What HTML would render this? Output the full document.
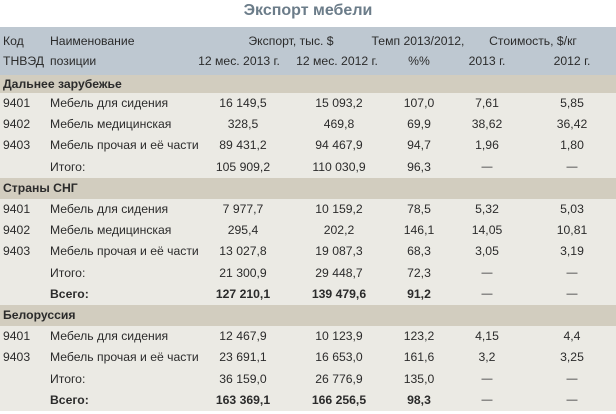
<!DOCTYPE html>
<html><head><meta charset="utf-8">
<style>
html,body{margin:0;padding:0;background:#fff;}
body{width:616px;height:414px;position:relative;overflow:hidden;font-family:"Liberation Sans","DejaVu Sans",sans-serif;font-size:12.2px;color:#2b2b2b;}
.title{position:absolute;left:0;width:616px;top:0;height:22px;line-height:22px;text-align:center;font-weight:bold;font-size:16px;color:#6b7c89;}
.hdr{position:absolute;left:0;top:27px;width:616px;height:48px;background:#bec8d1;}
.band{position:absolute;left:0;width:616px;background:#d2cdbf;font-weight:bold;}
.row{position:absolute;left:0;width:616px;background:#ebeae4;}
.t{position:absolute;top:0;white-space:nowrap;}
.code{left:3px;}
.name{left:50px;}
.c1{left:193px;width:100px;text-align:center;}
.c2{left:289px;width:100px;text-align:center;}
.c3{left:379px;width:80px;text-align:center;}
.c4{left:447px;width:80px;text-align:center;}
.c5{left:532px;width:80px;text-align:center;}
.d{font-size:11px;}
.b{font-weight:bold;}
.hl{position:absolute;left:0;width:616px;height:21px;line-height:21px;}
</style></head>
<body>
<div class="title">Экспорт мебели</div>
<div class="hdr">
  <div class="hl" style="top:4px">
    <span class="t code">Код</span>
    <span class="t name">Наименование</span>
    <span class="t" style="left:241px;width:100px;text-align:center">Экспорт, тыс. $</span>
    <span class="t" style="left:363px;width:110px;text-align:center">Темп 2013/2012,</span>
    <span class="t" style="left:478px;width:110px;text-align:center">Стоимость, $/кг</span>
  </div>
  <div class="hl" style="top:24px">
    <span class="t code">ТНВЭД</span>
    <span class="t name">позиции</span>
    <span class="t" style="left:189px;width:100px;text-align:center">12 мес. 2013 г.</span>
    <span class="t" style="left:287px;width:100px;text-align:center">12 мес. 2012 г.</span>
    <span class="t c3">%%</span>
    <span class="t c4">2013 г.</span>
    <span class="t c5">2012 г.</span>
  </div>
</div>

<div class="band" style="top:75px;height:18px;line-height:18px"><span class="t code">Дальнее зарубежье</span></div>
<div class="row" style="top:93px;height:21.2px;line-height:21.2px"><span class="t code">9401</span><span class="t name">Мебель для сидения</span><span class="t c1">16 149,5</span><span class="t c2">15 093,2</span><span class="t c3">107,0</span><span class="t c4">7,61</span><span class="t c5">5,85</span></div>
<div class="row" style="top:114.2px;height:21.2px;line-height:21.2px"><span class="t code">9402</span><span class="t name">Мебель медицинская</span><span class="t c1">328,5</span><span class="t c2">469,8</span><span class="t c3">69,9</span><span class="t c4">38,62</span><span class="t c5">36,42</span></div>
<div class="row" style="top:135.4px;height:21.2px;line-height:21.2px"><span class="t code">9403</span><span class="t name">Мебель прочая и её части</span><span class="t c1">89 431,2</span><span class="t c2">94 467,9</span><span class="t c3">94,7</span><span class="t c4">1,96</span><span class="t c5">1,80</span></div>
<div class="row" style="top:156.6px;height:21.2px;line-height:21.2px"><span class="t name">Итого:</span><span class="t c1">105 909,2</span><span class="t c2">110 030,9</span><span class="t c3">96,3</span><span class="t c4 d">—</span><span class="t c5 d">—</span></div>

<div class="band" style="top:177.8px;height:21.2px;line-height:21.2px"><span class="t code">Страны СНГ</span></div>
<div class="row" style="top:199px;height:21.2px;line-height:21.2px"><span class="t code">9401</span><span class="t name">Мебель для сидения</span><span class="t c1">7 977,7</span><span class="t c2">10 159,2</span><span class="t c3">78,5</span><span class="t c4">5,32</span><span class="t c5">5,03</span></div>
<div class="row" style="top:220.2px;height:21.2px;line-height:21.2px"><span class="t code">9402</span><span class="t name">Мебель медицинская</span><span class="t c1">295,4</span><span class="t c2">202,2</span><span class="t c3">146,1</span><span class="t c4">14,05</span><span class="t c5">10,81</span></div>
<div class="row" style="top:241.4px;height:21.2px;line-height:21.2px"><span class="t code">9403</span><span class="t name">Мебель прочая и её части</span><span class="t c1">13 027,8</span><span class="t c2">19 087,3</span><span class="t c3">68,3</span><span class="t c4">3,05</span><span class="t c5">3,19</span></div>
<div class="row" style="top:262.6px;height:21.2px;line-height:21.2px"><span class="t name">Итого:</span><span class="t c1">21 300,9</span><span class="t c2">29 448,7</span><span class="t c3">72,3</span><span class="t c4 d">—</span><span class="t c5 d">—</span></div>
<div class="row" style="top:283.8px;height:21.2px;line-height:21.2px"><span class="t name b">Всего:</span><span class="t c1 b">127 210,1</span><span class="t c2 b">139 479,6</span><span class="t c3 b">91,2</span><span class="t c4 d">—</span><span class="t c5 d">—</span></div>

<div class="band" style="top:305px;height:21.2px;line-height:21.2px"><span class="t code">Белоруссия</span></div>
<div class="row" style="top:326.2px;height:21.2px;line-height:21.2px"><span class="t code">9401</span><span class="t name">Мебель для сидения</span><span class="t c1">12 467,9</span><span class="t c2">10 123,9</span><span class="t c3">123,2</span><span class="t c4">4,15</span><span class="t c5">4,4</span></div>
<div class="row" style="top:347.4px;height:21.2px;line-height:21.2px"><span class="t code">9403</span><span class="t name">Мебель прочая и её части</span><span class="t c1">23 691,1</span><span class="t c2">16 653,0</span><span class="t c3">161,6</span><span class="t c4">3,2</span><span class="t c5">3,25</span></div>
<div class="row" style="top:368.6px;height:21.2px;line-height:21.2px"><span class="t name">Итого:</span><span class="t c1">36 159,0</span><span class="t c2">26 776,9</span><span class="t c3">135,0</span><span class="t c4 d">—</span><span class="t c5 d">—</span></div>
<div class="row" style="top:389.8px;height:21.4px;line-height:21.2px"><span class="t name b">Всего:</span><span class="t c1 b">163 369,1</span><span class="t c2 b">166 256,5</span><span class="t c3 b">98,3</span><span class="t c4 d">—</span><span class="t c5 d">—</span></div>
</body></html>
